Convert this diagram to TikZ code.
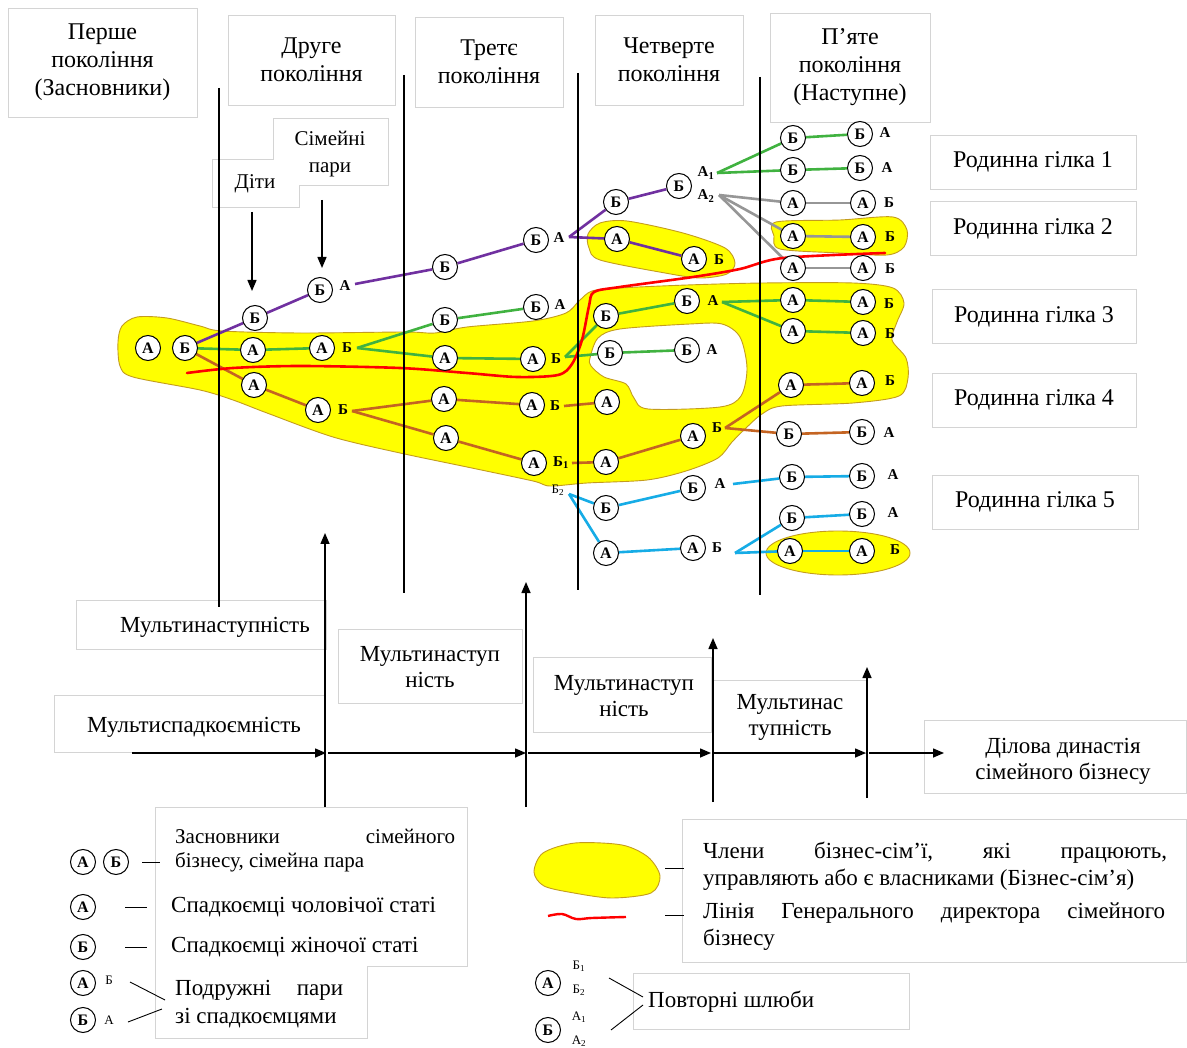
\documentclass[tikz,border=0pt]{standalone}
\usepackage{fontspec}
\setmainfont{Liberation Serif}
\usetikzlibrary{arrows.meta}
\definecolor{boxgray}{RGB}{212,212,212}
\definecolor{cpur}{RGB}{112,48,160}
\definecolor{cgrn}{RGB}{64,178,64}
\definecolor{cgry}{RGB}{150,150,150}
\definecolor{cbrn}{RGB}{196,100,34}
\definecolor{cblu}{RGB}{22,172,230}
\definecolor{cyel}{RGB}{255,255,0}
\definecolor{cgold}{RGB}{196,156,30}
\pgfdeclarelayer{bg}
\pgfdeclarelayer{lines}
\pgfdeclarelayer{vl}
\pgfsetlayers{bg,lines,vl,main}
\newcommand{\crc}[3]{\node[crc] (#1) at (#2) {#3};}
\newcommand{\lab}[3]{\node[lab] (#1) at (#2) {#3};}
\begin{document}
\begin{tikzpicture}[x=1pt,y=-1pt,
  crc/.style={circle,draw,line width=1pt,fill=white,minimum size=25pt,inner sep=0pt,font=\fontsize{16}{16}\selectfont\bfseries},
  lab/.style={inner sep=0pt,font=\fontsize{15}{15}\selectfont\bfseries},
  sublab/.style={inner sep=0pt,font=\fontsize{13}{13}\selectfont},
  bx/.style={draw=boxgray,line width=0.9pt,fill=white},
  hdr/.style={align=center,font=\fontsize{24}{28}\selectfont},
  txt/.style={inner sep=0pt,align=center,font=\fontsize{23}{26}\selectfont},
  stxt/.style={inner sep=0pt,align=center,font=\fontsize{21}{27}\selectfont},
  ltxt/.style={inner sep=0pt,anchor=west,font=\fontsize{23}{26}\selectfont},
  ltxs/.style={inner sep=0pt,anchor=west,font=\fontsize{21}{24}\selectfont},
  blob/.style={fill=cyel,draw=cgold,line width=0.9pt},
  ln/.style={line width=2.6pt},
  pur/.style={ln,cpur}, grn/.style={ln,cgrn}, gry/.style={ln,cgry},
  brn/.style={ln,cbrn}, blu/.style={ln,cblu},
  vline/.style={line width=2.8pt},
  arr/.style={line width=1.5pt,-{Triangle[length=11pt,width=9pt]}},
  thin/.style={line width=0.9pt}
]
\useasboundingbox (0,0) rectangle (1187,1048);
\begin{pgfonlayer}{bg}
\fill[white] (0,0) rectangle (1187,1048);
% children / couples box
\draw[bx] (212,159) -- (273,159) -- (273,118) -- (388,118) -- (388,185) -- (299,185) -- (299,207) -- (212,207) -- cycle;
% bottom boxes
\node[bx,minimum width=250pt,minimum height=49pt] (m1b) at (201,624.5) {};
\node[bx,minimum width=184pt,minimum height=74pt] (m2b) at (430,666) {};
\node[bx,minimum width=178pt,minimum height=75pt] (m3b) at (622,694.5) {};
\node[bx,minimum width=153pt,minimum height=73pt] (m4b) at (789.5,716.5) {};
\node[bx,minimum width=270pt,minimum height=57pt] (msb) at (189,723.5) {};
\node[bx,minimum width=262pt,minimum height=73pt] (dyb) at (1055,756.5) {};
% legend boxes
\draw[bx] (155,807) -- (467,807) -- (467,966) -- (367,966) -- (367,1038) -- (155,1038) -- cycle;
\node[bx,minimum width=504pt,minimum height=143pt] (lgb) at (934,890.5) {};
\node[bx,minimum width=276pt,minimum height=56pt] (pwb) at (771,1001) {};
% yellow blobs
\path[blob,even odd rule] plot[smooth cycle,tension=0.5] coordinates {(118,342) (122,326) (137,317) (167,318) (200,326) (222,331) (300,333) (405,332) (435,333) (467,327) (533,321) (566,313) (579,301) (592,291) (620,288) (687,285) (763,283) (853,283) (893,288) (904,303) (897,322) (892,340) (906,358) (908,378) (899,396) (853,403) (782,406) (762,414) (746,428) (732,442) (718,458) (686,471) (647,480) (587,483) (550,486) (533,481) (467,467) (400,453) (333,437) (267,413) (233,400) (200,390) (133,377) (120,366)}
  plot[smooth cycle,tension=0.5] coordinates {(590,358) (598,338) (620,329) (690,324) (722,324) (740,337) (747,368) (741,396) (720,407) (648,409) (634,398) (626,384) (604,377) (591,366)};
\path[blob] plot[smooth cycle,tension=0.5] coordinates {(588,234) (600,223) (627,221) (683,233) (725,248) (735,263) (727,274) (700,278) (665,273) (600,260) (589,248)};
\path[blob] plot[smooth cycle,tension=0.5] coordinates {(776,222) (840,220) (893,217) (907,230) (904,247) (887,255) (840,253) (780,249) (774,236)};
\path[blob] (838,553) ellipse [x radius=72pt, y radius=22pt];
\path[blob] plot[smooth cycle,tension=0.5] coordinates {(534,872) (543,853) (575,843) (622,845) (648,857) (660,876) (651,893) (612,898) (574,893) (544,886)};
\end{pgfonlayer}

% ---------- headers
\node[bx,hdr,minimum width=189pt,minimum height=109pt] (h1) at (102.5,62.5) {Перше\\покоління\\(Засновники)};
\node[bx,hdr,minimum width=167pt,minimum height=90pt] (h2) at (311.5,60) {Друге\\покоління};
\node[bx,hdr,minimum width=148pt,minimum height=90pt] (h3) at (489,62) {Третє\\покоління};
\node[bx,hdr,minimum width=148pt,minimum height=90pt] (h4) at (669,60) {Четверте\\покоління};
\node[bx,hdr,minimum width=160pt,minimum height=109pt] (h5) at (850,67.5) {П’яте\\покоління\\(Наступне)};

% family branch boxes
\node[bx,hdr,minimum width=206pt,minimum height=54pt] (r1) at (1033,162) {Родинна гілка 1};
\node[bx,hdr,minimum width=206pt,minimum height=54pt] (r2) at (1033,228.5) {Родинна гілка 2};
\node[bx,hdr,minimum width=204pt,minimum height=54pt] (r3) at (1034,316.5) {Родинна гілка 3};
\node[bx,hdr,minimum width=204pt,minimum height=54pt] (r4) at (1034,400) {Родинна гілка 4};
\node[bx,hdr,minimum width=206pt,minimum height=54pt] (r5) at (1035,502) {Родинна гілка 5};

\node[stxt] (sp) at (330,154) {Сімейні\\пари};
\node[stxt] (dt) at (255,184) {Діти};
\coordinate (dtA) at (252,212); \coordinate (dtB) at (252,291);
\coordinate (spA) at (322,200); \coordinate (spB) at (322,268);
\draw[arr] (dtA) -- (dtB);
\draw[arr] (spA) -- (spB);

% ---------- circles and labels
\crc{fA}{148,348}{А} \crc{fB}{185,348}{Б}
\crc{p1}{255,318}{Б}
\crc{p2}{320,290}{Б} \lab{p2l}{345,286}{А}
\crc{p3}{445,267}{Б}
\crc{p4}{536,240}{Б} \lab{p4l}{559,238}{А}
\crc{p5}{616,202}{Б}
\crc{p6}{679,186}{Б} \lab{p6a}{706,173}{А\textsubscript{1}} \lab{p6b}{706,196}{А\textsubscript{2}}
\crc{p7}{617,239}{А}
\crc{p8}{694,259}{А} \lab{p8l}{719,260}{Б}
\crc{g1}{253,350}{А}
\crc{g2}{322,348}{А} \lab{g2l}{347,348}{Б}
\crc{g3}{445,320}{Б}
\crc{g4}{536,307}{Б} \lab{g4l}{560,305}{А}
\crc{g5}{445,358}{А}
\crc{g6}{533,359}{А} \lab{g6l}{556,359}{Б}
\crc{g7}{606,316}{Б}
\crc{g8}{687,301}{Б} \lab{g8l}{713,301}{А}
\crc{g9}{793,300}{А} \crc{g10}{863,302}{А} \lab{g10l}{889,304}{Б}
\crc{g11}{793,331}{А} \crc{g12}{863,333}{А} \lab{g12l}{890,334}{Б}
\crc{g13}{610,353}{Б} \crc{g14}{687,350}{Б} \lab{g14l}{712,350}{А}
\crc{q1}{793,138}{Б} \crc{q2}{860,134}{Б} \lab{q2l}{885,133}{А}
\crc{q3}{793,170}{Б} \crc{q4}{860,168}{Б} \lab{q4l}{887,168}{А}
\crc{s1}{793,203}{А} \crc{s2}{863,203}{А} \lab{s2l}{889,203}{Б}
\crc{s3}{793,236}{А} \crc{s4}{863,237}{А} \lab{s4l}{890,237}{Б}
\crc{s5}{793,268}{А} \crc{s6}{863,268}{А} \lab{s6l}{890,269}{Б}
\crc{b1}{254,385}{А}
\crc{b2}{318,410}{А} \lab{b2l}{343,410}{Б}
\crc{b3}{444,399}{А}
\crc{b4}{532,405}{А} \lab{b4l}{555,406}{Б}
\crc{b5}{607,402}{А}
\crc{b6}{446,438}{А}
\crc{b7}{534,463}{А} \lab{b7l}{561,463}{Б\textsubscript{1}}
\crc{b8}{606,462}{А}
\crc{b9}{693,436}{А} \lab{b9l}{717,428}{Б}
\crc{b10}{791,385}{А} \crc{b11}{862,383}{А} \lab{b11l}{890,381}{Б}
\crc{b12}{789,434}{Б} \crc{b13}{862,432}{Б} \lab{b13l}{889,433}{А}
\node[sublab] (c0l) at (558,490) {Б\textsubscript{2}};
\crc{c1}{606,508}{Б}
\crc{c2}{693,488}{Б} \lab{c2l}{720,484}{А}
\crc{c3}{792,477}{Б} \crc{c4}{862,476}{Б} \lab{c4l}{893,475}{А}
\crc{c5}{606,553}{А}
\crc{c6}{693,548}{А} \lab{c6l}{717,548}{Б}
\crc{c7}{792,518}{Б} \crc{c8}{862,514}{Б} \lab{c8l}{893,513}{А}
\crc{c9}{790,551}{А} \crc{c10}{862,551}{А} \lab{c10l}{895,550}{Б}

% junction points
\coordinate (p2j) at (355,284);
\coordinate (p4j) at (569,237);
\coordinate (A1j) at (717,173);
\coordinate (A2j) at (719,195);
\coordinate (g2j) at (357,348);
\coordinate (g6j) at (565,357);
\coordinate (g8j) at (722,302);
\coordinate (b2j) at (352,411);
\coordinate (b4j) at (564,406);
\coordinate (b7j) at (572,463);
\coordinate (b9j) at (725,428);
\coordinate (c0j) at (569,494);
\coordinate (c2j) at (733,484);
\coordinate (c6j) at (735,553);

\begin{pgfonlayer}{lines}
\draw[pur] (fB) -- (p1); \draw[pur] (p1) -- (p2); \draw[pur] (p2j) -- (p3);
\draw[pur] (p3) -- (p4); \draw[pur] (p4j) -- (p5); \draw[pur] (p5) -- (p6);
\draw[pur] (p4j) -- (p7); \draw[pur] (p7) -- (p8);
\draw[grn] (fB) -- (g1); \draw[grn] (g1) -- (g2);
\draw[grn] (g2j) -- (g3); \draw[grn] (g3) -- (g4);
\draw[grn] (g2j) -- (g5); \draw[grn] (g5) -- (g6);
\draw[grn] (g6j) -- (g7); \draw[grn] (g7) -- (g8);
\draw[grn] (g6j) -- (g13); \draw[grn] (g13) -- (g14);
\draw[grn] (g8j) -- (g9); \draw[grn] (g9) -- (g10);
\draw[grn] (g8j) -- (g11); \draw[grn] (g11) -- (g12);
\draw[grn] (A1j) -- (q1); \draw[grn] (q1) -- (q2);
\draw[grn] (A1j) -- (q3); \draw[grn] (q3) -- (q4);
\draw[gry] (A2j) -- (s1); \draw[gry] (s1) -- (s2);
\draw[gry] (A2j) -- (s3); \draw[gry] (s3) -- (s4);
\draw[gry] (A2j) -- (s5); \draw[gry] (s5) -- (s6);
\draw[brn] (fB) -- (b1); \draw[brn] (b1) -- (b2);
\draw[brn] (b2j) -- (b3); \draw[brn] (b3) -- (b4); \draw[brn] (b4j) -- (b5);
\draw[brn] (b2j) -- (b6); \draw[brn] (b6) -- (b7); \draw[brn] (b7j) -- (b8);
\draw[brn] (b8) -- (b9);
\draw[brn] (b9j) -- (b10); \draw[brn] (b10) -- (b11);
\draw[brn] (b9j) -- (b12); \draw[brn] (b12) -- (b13);
\draw[blu] (c0j) -- (c1); \draw[blu] (c1) -- (c2);
\draw[blu] (c2j) -- (c3); \draw[blu] (c3) -- (c4);
\draw[blu] (c0j) -- (c5); \draw[blu] (c5) -- (c6);
\draw[blu] (c6j) -- (c7); \draw[blu] (c7) -- (c8);
\draw[blu] (c6j) -- (c9); \draw[blu] (c9) -- (c10);
% CEO line
\draw[red,line width=2.6pt,line cap=round] plot[smooth,tension=0.5] coordinates {(187,373) (233,368) (300,366) (400,368) (467,373) (517,377) (558,375) (572,364) (582,340) (589,306) (594,292) (620,287) (693,277) (740,269) (783,258) (885,253)};
\end{pgfonlayer}

% vertical generation lines
\coordinate (v1a) at (219,88);  \coordinate (v1b) at (219,607);
\coordinate (v2a) at (404,75);  \coordinate (v2b) at (404,593);
\coordinate (v3a) at (578,73);  \coordinate (v3b) at (578,590);
\coordinate (v4a) at (760,77);  \coordinate (v4b) at (760,595);
\begin{pgfonlayer}{vl}
\draw[vline] (v1a) -- (v1b);
\draw[vline] (v2a) -- (v2b);
\draw[vline] (v3a) -- (v3b);
\draw[vline] (v4a) -- (v4b);
\end{pgfonlayer}

% ---------- bottom texts
\node[txt] (m1) at (215,627) {Мультинаступність};
\node[txt] (m2) at (430,667.5) {Мультинаступ\\ність};
\node[txt] (m3) at (624,696.5) {Мультинаступ\\ність};
\node[txt] (m4) at (790,717.5) {Мультинас\\тупність};
\node[txt] (ms) at (194,727) {Мультиспадкоємність};
\node[txt] (dy) at (1063,761.5) {Ділова династія\\сімейного бізнесу};

% horizontal timeline
\coordinate (t0) at (132,753); \coordinate (t1) at (326,753);
\coordinate (t1b) at (328,753); \coordinate (t2) at (526,753);
\coordinate (t2b) at (528,753); \coordinate (t3) at (711,753);
\coordinate (t3b) at (714,753); \coordinate (t4) at (866,753);
\coordinate (t4b) at (869,753); \coordinate (t5) at (944,753);
\draw[arr] (t0) -- (t1);
\draw[arr] (t1b) -- (t2);
\draw[arr] (t2b) -- (t3);
\draw[arr] (t3b) -- (t4);
\draw[arr] (t4b) -- (t5);
% vertical arrows
\coordinate (u1a) at (325,807); \coordinate (u1b) at (325,533);
\coordinate (u2a) at (526,807); \coordinate (u2b) at (526,582);
\coordinate (u3a) at (713,802); \coordinate (u3b) at (713,638);
\coordinate (u4a) at (867,798); \coordinate (u4b) at (867,667);
\draw[arr] (u1a) -- (u1b);
\draw[arr] (u2a) -- (u2b);
\draw[arr] (u3a) -- (u3b);
\draw[arr] (u4a) -- (u4b);

% ---------- legend left
\crc{kA}{83,862}{А} \crc{kB}{116,862}{Б}
\coordinate (k1a) at (142,862); \coordinate (k1b) at (160,862);
\draw[thin] (k1a) -- (k1b);
\node[ltxs] (kt1) at (175,836) {\hbox to 280pt{Засновники\hfill сімейного}};
\node[ltxs] (kt1b) at (175,862) {бізнесу, сімейна пара};
\crc{kC}{83,907}{А}
\coordinate (k2a) at (125,907); \coordinate (k2b) at (147,907);
\draw[thin] (k2a) -- (k2b);
\node[ltxt] (kt2) at (171,907) {Спадкоємці чоловічої статі};
\crc{kD}{83,947}{Б}
\coordinate (k3a) at (125,947); \coordinate (k3b) at (147,947);
\draw[thin] (k3a) -- (k3b);
\node[ltxt] (kt3) at (171,947) {Спадкоємці жіночої статі};
\crc{kE}{83,983}{А} \node[sublab] (kEl) at (109,980) {Б};
\crc{kF}{83,1020}{Б} \node[sublab] (kFl) at (109,1020) {А};
\coordinate (k4a) at (130,982); \coordinate (k4b) at (165,1000);
\coordinate (k5a) at (128,1022); \coordinate (k5b) at (162,1009);
\draw[thin] (k4a) -- (k4b);
\draw[thin] (k5a) -- (k5b);
\node[ltxt] (kt4) at (175,990) {\hbox to 168pt{Подружні\hfill пари}};
\node[ltxt] (kt4b) at (175,1018) {зі спадкоємцями};

% ---------- legend right
\coordinate (k6a) at (665,868); \coordinate (k6b) at (684,868);
\draw[thin] (k6a) -- (k6b);
\node[ltxt] (kt6) at (703,853) {\hbox to 464pt{Члени\hfill бізнес-сім’ї,\hfill які\hfill працюють,}};
\node[ltxt] (kt6b) at (703,880) {управляють або є власниками (Бізнес-сім’я)};
\draw[red,line width=2.4pt] plot[smooth,tension=0.6] coordinates {(548,916) (562,914) (576,919) (592,918) (626,917)};
\coordinate (k7a) at (665,915); \coordinate (k7b) at (684,915);
\draw[thin] (k7a) -- (k7b);
\node[ltxt] (kt7) at (703,913) {\hbox to 462pt{Лінія\hfill Генерального\hfill директора\hfill сімейного}};
\node[ltxt] (kt7b) at (703,940) {бізнесу};
\crc{kG}{548,983}{А}
\node[sublab] (kGa) at (579,966) {Б\textsubscript{1}};
\node[sublab] (kGb) at (579,990) {Б\textsubscript{2}};
\crc{kH}{548,1030}{Б}
\node[sublab] (kHa) at (579,1017) {А\textsubscript{1}};
\node[sublab] (kHb) at (579,1041) {А\textsubscript{2}};
\coordinate (k8a) at (609,978); \coordinate (k8b) at (643,997);
\coordinate (k9a) at (611,1030); \coordinate (k9b) at (643,1005);
\draw[thin] (k8a) -- (k8b);
\draw[thin] (k9a) -- (k9b);
\node[ltxt] (kt8) at (648,1002) {Повторні шлюби};
\end{tikzpicture}
\end{document}
